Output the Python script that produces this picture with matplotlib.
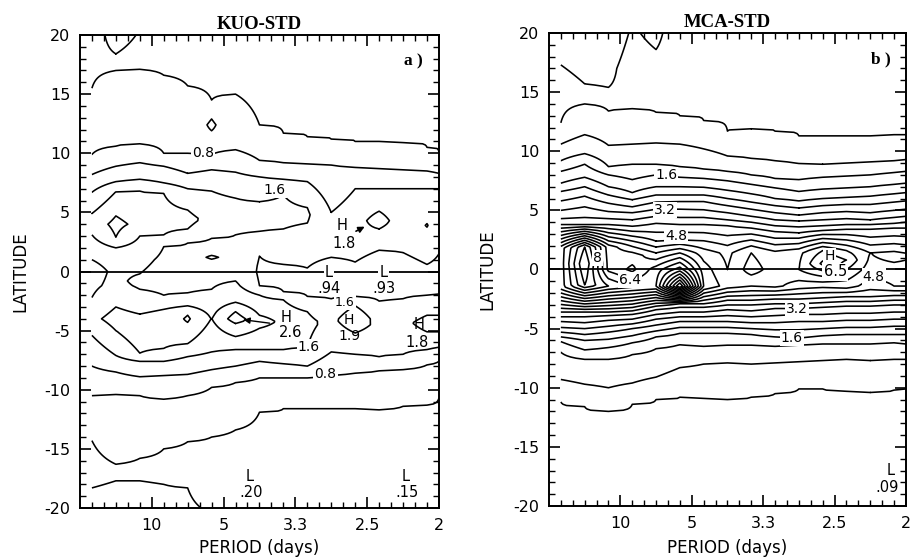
import numpy as np
import matplotlib
matplotlib.use('Agg')
import matplotlib.pyplot as plt

plt.rcParams['axes.unicode_minus'] = False

# ============================================
# DATA
# ============================================
# spectral columns: harmonics of a 60-day record (cycles/day)
harmonics = [1, 3, 5, 7, 9, 11, 13, 15, 17, 19, 21, 23, 25, 27, 29, 30]
freq = np.array(harmonics) / 60.0

period_ticks = [0.1, 0.2, 0.3, 0.4, 0.5]
period_labels = ['10', '5', '3.3', '2.5', '2']
lat_ticks = [-20, -15, -10, -5, 0, 5, 10, 15, 20]
levels = np.arange(0.4, 10.0, 0.4)

# KUO-STD: meridional profile (latitude, std) for each spectral column
kuo_lat = [
    [-20.5, -18.3, -16.5, -14.3, -10.5, -8.0, -5.4, -4.0, -2.2, 0.0, 1.0, 3.1, 4.0, 4.9, 6.7, 8.2, 9.9, 15.5, 20.5],
    [-20.5, -17.7, -17.0, -16.3, -10.4, -8.5, -7.1, -5.0, -4.0, -3.0, -1.2, 0.0, 1.0, 2.0, 2.9, 4.0, 4.7, 6.75, 7.6, 8.9, 10.6, 17.0, 17.7, 18.4, 20.5],
    [-20.5, -17.7, -16.8, -15.8, -10.5, -8.9, -7.6, -6.9, -5.2, -3.6, -1.5, -0.8, -0.2, 1.0, 3.0, 4.0, 6.8, 7.8, 9.2, 10.8, 17.1, 18.5, 20.5],
    [-20.5, -18.0, -16.5, -15.0, -10.8, -8.8, -7.6, -6.5, -4.5, -3.2, -2.0, -0.5, 2.1, 3.1, 4.5, 6.6, 7.5, 8.9, 10.0, 16.6, 20.5],
    [-20.5, -18.3, -16.5, -14.4, -10.5, -8.7, -7.2, -6.1, -4.3, -4.0, -3.7, -2.9, -1.8, 0.0, 1.2, 2.4, 3.6, 4.3, 5.2, 7.0, 8.3, 10.0, 15.7, 20.5],
    [-20.5, -18.0, -14.0, -9.8, -8.3, -6.8, -4.0, -1.5, 0.0, 0.5, 1.2, 1.9, 2.8, 4.5, 6.8, 8.6, 9.9, 11.0, 11.9, 12.4, 12.9, 13.7, 14.5, 20.5],
    [-20.5, -18.0, -13.4, -9.4, -8.0, -6.6, -5.5, -4.4, -4.0, -3.4, -2.6, -0.8, 0.5, 3.1, 4.5, 6.2, 8.4, 10.3, 15.0, 20.5],
    [-20.5, -18.0, -11.9, -9.0, -7.6, -6.6, -4.8, -4.2, -3.7, -2.0, -1.2, 0.0, 1.3, 3.4, 4.5, 5.9, 8.0, 9.4, 12.4, 15.0, 20.5],
    [-20.5, -11.6, -9.0, -7.8, -6.6, -4.3, -2.4, -1.7, 0.0, 0.6, 3.6, 5.0, 6.5, 7.8, 9.2, 11.7, 20.5],
    [-20.5, -11.6, -9.0, -8.0, -6.4, -4.5, -3.4, -2.1, 0.0, 0.3, 4.1, 4.8, 5.4, 7.6, 9.1, 11.4, 20.5],
    [-20.5, -11.6, -8.8, -6.8, -4.2, -2.3, 0.0, 1.2, 3.0, 5.0, 9.0, 11.2, 20.5],
    [-20.5, -11.6, -8.6, -7.0, -5.2, -4.0, -2.9, -2.1, 0.0, 0.8, 3.5, 7.0, 8.8, 11.0, 20.5],
    [-20.5, -11.7, -8.4, -7.2, -4.5, -2.5, -0.2, 1.8, 3.6, 4.3, 5.1, 7.0, 8.7, 11.0, 20.5],
    [-20.5, -18.0, -11.4, -8.3, -7.0, -4.3, -2.3, 0.0, 1.6, 4.0, 7.0, 8.6, 10.9, 20.5],
    [-20.5, -18.0, -11.3, -7.9, -6.6, -5.1, -4.4, -3.7, -2.0, 0.0, 0.6, 3.0, 3.9, 4.8, 7.0, 8.5, 10.5, 20.5],
    [-20.5, -10.7, -7.6, -6.4, -5.1, -4.3, -3.7, -1.9, 0.0, 1.5, 4.0, 7.0, 8.3, 10.1, 20.5],
]
kuo_val = [
    [.50, .40, .33, .40, .80, 1.20, 1.60, 1.90, 1.60, 1.45, 1.60, 2.00, 2.20, 2.00, 1.60, 1.20, .80, .40, .33],
    [.50, .40, .37, .40, .80, 1.20, 1.60, 2.00, 2.15, 2.00, 1.70, 1.68, 1.75, 2.00, 2.40, 2.50, 2.40, 2.00, 1.60, 1.20, .80, .40, .37, .40, .47],
    [.48, .40, .37, .40, .80, 1.20, 1.60, 2.00, 2.25, 2.00, 1.60, 1.50, 1.60, 1.70, 2.00, 2.30, 2.00, 1.60, 1.20, .80, .40, .36, .40],
    [.45, .40, .36, .40, .80, 1.20, 1.60, 2.00, 2.25, 2.00, 1.60, 1.45, 1.60, 2.00, 2.15, 2.00, 1.60, 1.20, .80, .40, .32],
    [.45, .40, .32, .40, .80, 1.20, 1.60, 2.00, 2.40, 2.45, 2.40, 2.00, 1.60, 1.42, 1.50, 1.60, 2.00, 2.10, 2.00, 1.60, 1.20, .80, .40, .30],
    [.40, .25, .40, .80, 1.20, 1.60, 1.99, 1.60, 1.48, 1.50, 1.63, 1.50, 1.60, 1.90, 1.60, 1.20, .80, .70, .80, .84, .80, .60, .40, .30],
    [.25, .20, .40, .80, 1.20, 1.60, 2.00, 2.40, 2.60, 2.40, 2.00, 1.60, 1.50, 1.60, 1.75, 1.60, 1.20, .80, .40, .30],
    [.24, .21, .40, .80, 1.20, 1.60, 2.00, 2.20, 2.00, 1.60, 1.20, 1.15, 1.20, 1.60, 1.70, 1.60, 1.20, .80, .40, .30, .28],
    [.22, .40, .80, 1.20, 1.60, 1.90, 1.60, 1.20, 1.05, 1.20, 1.60, 1.70, 1.60, 1.20, .80, .40, .27],
    [.22, .40, .80, 1.20, 1.60, 1.70, 1.60, 1.20, 1.00, 1.20, 1.60, 1.65, 1.60, 1.20, .80, .40, .27],
    [.20, .40, .80, 1.20, 1.50, 1.20, .94, 1.20, 1.40, 1.20, .80, .40, .27],
    [.20, .40, .80, 1.20, 1.60, 1.90, 1.60, 1.20, 1.00, 1.20, 1.48, 1.20, .80, .40, .27],
    [.18, .40, .80, 1.20, 1.50, 1.20, .93, 1.20, 1.60, 1.80, 1.60, 1.20, .80, .40, .26],
    [.18, .15, .40, .80, 1.20, 1.50, 1.20, 1.00, 1.20, 1.35, 1.20, .80, .40, .27],
    [.18, .16, .40, .80, 1.20, 1.60, 1.75, 1.60, 1.20, 1.05, 1.20, 1.50, 1.62, 1.50, 1.20, .80, .40, .27],
    [.20, .40, .80, 1.20, 1.60, 1.80, 1.60, 1.20, 1.10, 1.20, 1.40, 1.20, .80, .40, .27],
]

# MCA-STD: latitude where each outer contour (0.4 ... 4.0) is crossed, per column
mca_outer = [0.4, 0.8, 1.2, 1.6, 2.0, 2.4, 2.8, 3.2, 3.6, 4.0]
mca_north = [
    [12.4, 14.0, 13.4, 13.6, 13.3, 13.0, 12.6, 11.7, 11.9, 11.7, 11.3, 11.3, 11.3, 11.3, 11.4, 11.4],
    [10.6, 11.4, 10.5, 10.6, 10.7, 10.6, 10.2, 9.6, 9.4, 9.2, 8.95, 8.9, 9.0, 9.1, 9.2, 9.3],
    [9.2, 9.8, 8.7, 8.9, 8.9, 8.7, 8.5, 8.3, 8.0, 7.7, 7.6, 7.8, 7.9, 8.0, 8.2, 8.3],
    [8.3, 8.9, 8.0, 7.6, 8.0, 7.8, 7.7, 7.5, 7.2, 6.9, 6.6, 6.8, 6.9, 7.0, 7.2, 7.3],
    [7.3, 7.8, 7.0, 6.5, 7.0, 7.0, 6.95, 6.7, 6.4, 6.0, 5.8, 6.0, 6.1, 6.2, 6.4, 6.5],
    [6.6, 7.0, 6.3, 5.9, 6.3, 6.3, 6.3, 6.0, 5.7, 5.4, 5.2, 5.4, 5.5, 5.5, 5.7, 5.8],
    [5.8, 6.2, 5.6, 5.3, 5.7, 5.75, 5.75, 5.4, 5.1, 4.8, 4.6, 4.8, 4.9, 4.8, 5.0, 5.1],
    [5.0, 5.3, 4.9, 4.8, 5.1, 5.1, 5.05, 4.8, 4.5, 4.2, 4.1, 4.2, 4.3, 4.2, 4.4, 4.5],
    [4.3, 4.4, 4.3, 4.2, 4.5, 4.4, 4.4, 4.2, 4.0, 3.7, 3.6, 3.7, 3.8, 3.8, 3.9, 4.0],
    [3.8, 3.8, 3.8, 3.65, 3.9, 3.8, 3.8, 3.7, 3.5, 3.2, 3.1, 3.3, 3.4, 3.4, 3.5, 3.5],
]
mca_south = [
    [-11.2, -11.6, -12.0, -11.4, -11.0, -10.8, -10.9, -11.0, -10.8, -10.5, -10.1, -10.1, -10.3, -10.4, -10.2, -10.1],
    [-9.3, -9.7, -10.0, -9.6, -9.1, -8.3, -8.0, -7.9, -8.0, -7.9, -7.8, -7.7, -7.6, -7.7, -7.6, -7.6],
    [-7.0, -7.6, -7.6, -7.2, -6.7, -6.35, -6.5, -6.4, -6.4, -6.5, -6.4, -6.3, -6.3, -6.3, -6.2, -6.3],
    [-6.1, -6.8, -6.6, -6.2, -5.7, -5.4, -5.4, -5.4, -5.5, -5.7, -5.8, -5.6, -5.5, -5.5, -5.5, -5.5],
    [-5.7, -6.0, -5.9, -5.6, -5.2, -4.9, -4.9, -4.9, -5.0, -5.1, -5.1, -5.0, -4.9, -4.9, -4.8, -4.8],
    [-5.3, -5.5, -5.3, -5.0, -4.7, -4.4, -4.4, -4.4, -4.5, -4.5, -4.4, -4.4, -4.3, -4.3, -4.2, -4.2],
    [-4.9, -5.0, -4.8, -4.6, -4.2, -4.0, -4.0, -3.9, -4.0, -3.9, -3.8, -3.8, -3.7, -3.7, -3.6, -3.6],
    [-4.4, -4.5, -4.3, -4.2, -3.8, -3.6, -3.6, -3.4, -3.5, -3.3, -3.3, -3.2, -3.1, -3.1, -3.0, -3.0],
    [-4.0, -4.0, -3.9, -3.8, -3.4, -3.2, -3.2, -3.0, -3.0, -2.9, -2.9, -2.8, -2.7, -2.7, -2.6, -2.6],
    [-3.6, -3.6, -3.6, -3.5, -3.1, -2.9, -2.9, -2.6, -2.6, -2.5, -2.5, -2.4, -2.3, -2.3, -2.2, -2.2],
]
# near-equatorial maxima between the 4.0 contours
mca_inner_lat = [
    [-1.5, 0.0, 1.8], [-1.3, 0.5, 1.9], [-1.4, 0.0, 1.9], [-1.5, -0.9, 0.0, 1.2, 2.2],
    [-1.4, 0.0, 1.4, 2.4], [-2.6, -1.4, 0.0, 1.4, 2.5], [-1.4, 0.0, 1.4], [-1.4, 0.0, 1.4],
    [-1.4, 0.0, 1.4, 2.0], [-1.4, 0.0, 1.4], [-1.4, 0.0, 1.4], [-1.3, 0.5, 1.6],
    [-1.4, 0.0, 0.8, 1.6], [-1.4, 0.0, 1.4], [-1.4, 0.0, 1.2], [-1.4, 0.0, 1.2],
]
mca_inner_val = [
    [6.6, 6.6, 6.6], [8.0, 8.4, 8.0], [7.2, 6.3, 6.2], [6.8, 6.4, 5.9, 6.2, 5.4],
    [6.8, 6.6, 5.6, 4.8], [5.2, 9.6, 7.4, 6.0, 4.8], [6.0, 5.8, 5.4], [5.4, 5.2, 5.1],
    [5.2, 5.8, 5.6, 5.2], [5.3, 5.4, 5.3], [5.0, 5.6, 5.5], [5.0, 6.5, 6.0],
    [5.0, 5.6, 6.0, 5.6], [4.6, 5.0, 5.2], [4.8, 5.0, 5.4], [4.8, 5.0, 5.3],
]
# poleward ends of each column
mca_top_lat = [[15.0, 17.3, 20.5], [14.8, 15.7, 20.5], [14.4, 15.4, 20.5], [17.0, 20.5],
               [16.0, 18.6, 20.5]] + [[20.5]] * 11
mca_top_val = [[.32, .40, .50], [.37, .40, .55], [.36, .40, .52], [.33, .39],
               [.33, .40, .45], [.30], [.30], [.29], [.28], [.28], [.27], [.27],
               [.27], [.27], [.27], [.27]]
mca_bottom_val = [.20, .20, .19, .18, .17, .16, .15, .15, .14, .13, .12, .12, .11, .10, .09, .10]


# ============================================
# FIELD CONSTRUCTION
# ============================================
lat_grid = np.linspace(-20.5, 20.5, 411)


def column_field(lat_lists, val_lists):
    """Interpolate each column profile onto the common latitude grid"""
    return np.column_stack([np.interp(lat_grid, la, va)
                            for la, va in zip(lat_lists, val_lists)])


def mca_profiles():
    lats, vals = [], []
    n = len(mca_outer)
    for j in range(len(freq)):
        la = ([-20.5] + [mca_south[i][j] for i in range(n)] + mca_inner_lat[j]
              + [mca_north[i][j] for i in reversed(range(n))] + mca_top_lat[j])
        va = ([mca_bottom_val[j]] + mca_outer + mca_inner_val[j]
              + mca_outer[::-1] + mca_top_val[j])
        lats.append(la)
        vals.append(va)
    return lats, vals


kuo_field = column_field(kuo_lat, kuo_val)
mca_lat, mca_val = mca_profiles()
mca_field = column_field(mca_lat, mca_val)


# ============================================
# PLOTTING
# ============================================
def label(ax, x, y, s, size=10.5, box=True):
    kw = dict(ha='center', va='center', fontsize=size, zorder=6)
    if box:
        kw['bbox'] = dict(boxstyle='square,pad=0.08', fc='white', ec='none')
    ax.text(x, y, s, **kw)


def style_axes(ax, title, tag):
    ax.set_xlim(0, 0.5)
    ax.set_ylim(-20, 20)
    ax.axhline(0, color='black', lw=1.3, zorder=3)
    ax.set_xticks(period_ticks)
    ax.set_xticklabels(period_labels)
    ax.set_xticks([k / 60 for k in range(1, 30) if k % 6], minor=True)
    ax.set_yticks(lat_ticks)
    ax.set_yticklabels([str(v) for v in lat_ticks])
    ax.set_yticks(range(-20, 21), minor=True)
    ax.tick_params(which='both', direction='in', top=True, right=True,
                   labelsize=11.5, pad=7)
    ax.tick_params(which='major', length=8, width=1.2)
    ax.tick_params(which='minor', length=4, width=1.0)
    for sp in ax.spines.values():
        sp.set_linewidth(1.4)
    ax.set_xlabel('PERIOD (days)', fontsize=12)
    ax.set_ylabel('LATITUDE', fontsize=12)
    ax.text(0.5, 1.004, title, transform=ax.transAxes, ha='center', va='bottom',
            fontsize=13.5, fontweight='bold', family='Liberation Serif')
    ax.text(0.93, 0.945, tag, transform=ax.transAxes, ha='center', va='center',
            fontsize=12.5, fontweight='bold', family='Liberation Serif')


fig = plt.figure(figsize=(9.16, 5.59), dpi=100)
ax1 = fig.add_axes([0.0873, 0.0912, 0.3919, 0.8462])
ax2 = fig.add_axes([0.5993, 0.0948, 0.3897, 0.8462])

ax1.contour(freq, lat_grid, kuo_field, levels=levels, colors='black', linewidths=1.15)
ax2.contour(freq, lat_grid, mca_field, levels=levels, colors='black', linewidths=1.15)

style_axes(ax1, 'KUO-STD', 'a )')
style_axes(ax2, 'MCA-STD', 'b )')
ax1.yaxis.set_label_coords(-0.142, 0.5)
ax2.yaxis.set_label_coords(-0.148, 0.5)
ax1.xaxis.set_label_coords(0.5, -0.066)
ax2.xaxis.set_label_coords(0.5, -0.07)

# KUO contour labels and extrema
label(ax1, 0.171, 10.0, '0.8', 10)
label(ax1, 0.271, 6.9, '1.6', 10)
label(ax1, 0.319, -6.4, '1.6', 10)
label(ax1, 0.342, -8.7, '0.8', 10)
label(ax1, 0.369, -2.6, '1.6', 9)
label(ax1, 0.365, 3.9, 'H', box=False)
label(ax1, 0.368, 2.4, '1.8', box=False)
label(ax1, 0.347, -0.1, 'L')
label(ax1, 0.347, -1.45, '.94', box=False)
label(ax1, 0.423, -0.1, 'L')
label(ax1, 0.423, -1.45, '.93', box=False)
label(ax1, 0.287, -3.9, 'H', box=False)
label(ax1, 0.294, -5.2, '2.6', box=False)
label(ax1, 0.375, -4.1, 'H', 10, box=False)
label(ax1, 0.375, -5.45, '1.9', 10, box=False)
label(ax1, 0.472, -4.5, 'H', box=False)
label(ax1, 0.469, -6.0, '1.8', box=False)
label(ax1, 0.236, -17.3, 'L', box=False)
label(ax1, 0.238, -18.7, '.20', box=False)
label(ax1, 0.453, -17.3, 'L', box=False)
label(ax1, 0.455, -18.7, '.15', box=False)
ax1.annotate('', xy=(0.400, 3.9), xytext=(0.381, 3.3),
             arrowprops=dict(arrowstyle='-|>', color='black', lw=1.2, mutation_scale=9))
ax1.annotate('', xy=(0.224, -4.05), xytext=(0.268, -4.4),
             arrowprops=dict(arrowstyle='-|>', color='black', lw=1.0, mutation_scale=9))

# MCA contour labels and extrema
label(ax2, 0.164, 8.0, '1.6', 10)
label(ax2, 0.162, 5.05, '3.2', 10)
label(ax2, 0.178, 2.8, '4.8', 10)
label(ax2, 0.068, 0.95, '8', 10)
label(ax2, 0.113, -0.9, '6.4', 10)
label(ax2, 0.393, 1.1, 'H', 10)
label(ax2, 0.401, -0.2, '6.5', 10.5)
label(ax2, 0.455, -0.6, '4.8', 10)
label(ax2, 0.347, -3.3, '3.2', 10)
label(ax2, 0.340, -5.8, '1.6', 10)
label(ax2, 0.478, -17.0, 'L', box=False)
label(ax2, 0.473, -18.4, '.09', box=False)

fig.savefig('out.png', dpi=100)
